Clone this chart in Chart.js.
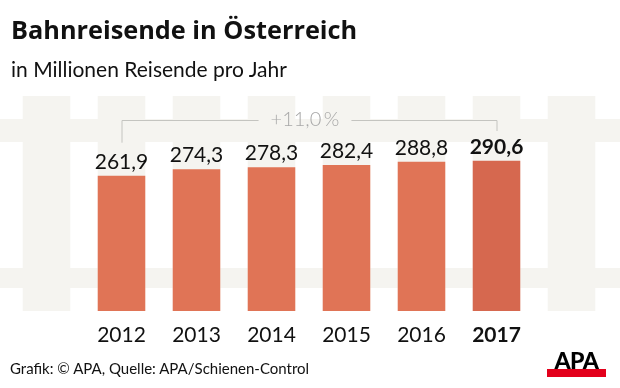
<!DOCTYPE html>
<html>
<head>
<meta charset="utf-8">
<script src="https://cdn.jsdelivr.net/npm/chart.js@4.4.1/dist/chart.umd.min.js"></script>
<style>
    body { margin: 0; background: #fff; font-family: Lato, sans-serif; }
    #wrap { position: relative; width: 620px; height: 388px; overflow: hidden; }
    #chart { position: absolute; left: 0; top: 0; }
    .title { position: absolute; left: 11px; top: 13px; font-family: "Open Sans", sans-serif; font-size: 25.3px; line-height: 32px;
             font-weight: bold; color: #111; white-space: nowrap; }
    .subtitle { position: absolute; left: 11px; top: 56px; font-size: 21px; color: #111; white-space: nowrap; }
    .source { position: absolute; left: 10px; top: 359px; font-size: 15px; color: #111; white-space: nowrap; }
    .logo { position: absolute; left: 547px; top: 348px; width: 59px; height: 21px; border-bottom: 8px solid #e3001b;
            font-size: 23px; font-weight: 900; line-height: 24px; text-align: center; color: #000; letter-spacing: -0.5px; overflow: hidden; }
</style>
</head>
<body>
<div id="wrap">
    <canvas id="chart" width="620" height="388"></canvas>
    <div class="title">Bahnreisende in Österreich</div>
    <div class="subtitle">in Millionen Reisende pro Jahr</div>
    <div class="source">Grafik: © APA, Quelle: APA/Schienen-Control</div>
    <div class="logo">APA</div>
</div>
<script>
// Data
const years = ['2012', '2013', '2014', '2015', '2016', '2017'];
const passengers = [261.9, 274.3, 278.3, 282.4, 288.8, 290.6];
const barColors = ['#e07456', '#e07456', '#e07456', '#e07456', '#e07456', '#d6684f'];

const fenceColor = '#f5f4f0';

function formatDe(v) {
    return v.toFixed(1).replace('.', ',');
}

// Fence in the background (posts line up with the bars)
const fencePlugin = {
    id: 'fence',
    beforeDatasetsDraw(chart) {
        const { ctx, chartArea, scales } = chart;
        const meta = chart.getDatasetMeta(0);
        const x0 = scales.x.getPixelForValue(0);
        const step = scales.x.getPixelForValue(1) - x0;
        const w = meta.data[0].width;
        ctx.save();
        ctx.fillStyle = fenceColor;
        for (let i = -1; i <= years.length; i++) {
            const cx = x0 + i * step;
            ctx.fillRect(cx - w / 2, chartArea.top - 60, w, chartArea.bottom - chartArea.top + 60);
        }
        ctx.fillRect(0, chartArea.top - 37, chart.width, 23);
        ctx.fillRect(0, chartArea.bottom - 43, chart.width, 20);
        ctx.restore();
    }
};

// Value labels and growth bracket
const labelPlugin = {
    id: 'labels',
    afterDatasetsDraw(chart) {
        const { ctx, chartArea } = chart;
        const meta = chart.getDatasetMeta(0);
        ctx.save();
        ctx.textAlign = 'center';
        ctx.textBaseline = 'alphabetic';
        meta.data.forEach((bar, i) => {
            const last = i === passengers.length - 1;
            ctx.font = (last ? 'bold ' : '') + '21px Lato';
            ctx.fillStyle = '#111';
            ctx.fillText(formatDe(passengers[i]), bar.x, bar.y - 7);
        });

        // bracket
        const first = meta.data[0];
        const lastBar = meta.data[meta.data.length - 1];
        const y = chartArea.top - 36;
        const growth = (passengers[passengers.length - 1] / passengers[0] - 1) * 100;
        const text = '+' + formatDe(growth) + '\u2009%';
        ctx.font = '300 20px Lato';
        const tw = ctx.measureText(text).width;
        const mid = (first.x + lastBar.x) / 2 - 4;
        ctx.strokeStyle = '#c4c4c0';
        ctx.lineWidth = 1;
        ctx.beginPath();
        ctx.moveTo(first.x + 0.5, first.y - 33);
        ctx.lineTo(first.x + 0.5, y + 0.5);
        ctx.lineTo(mid - tw / 2 - 12, y + 0.5);
        ctx.moveTo(mid + tw / 2 + 12, y + 0.5);
        ctx.lineTo(lastBar.x + 0.5, y + 0.5);
        ctx.lineTo(lastBar.x + 0.5, y + 11);
        ctx.stroke();
        ctx.fillStyle = '#a8a8a8';
        ctx.textBaseline = 'middle';
        ctx.fillText(text, mid, y);
        ctx.restore();
    }
};

new Chart(document.getElementById('chart'), {
    type: 'bar',
    data: {
        labels: years,
        datasets: [{
            data: passengers,
            backgroundColor: barColors,
            borderWidth: 0,
            categoryPercentage: 1,
            barPercentage: 0.634
        }]
    },
    options: {
        responsive: false,
        animation: false,
        layout: { padding: { left: 84, right: 86, top: 156, bottom: 0 } },
        plugins: {
            legend: { display: false },
            tooltip: { enabled: false }
        },
        scales: {
            y: { display: false, min: 0, max: 300 },
            x: {
                grid: { display: false, drawTicks: false },
                border: { display: false },
                ticks: {
                    color: '#111',
                    padding: 12,
                    maxRotation: 0,
                    autoSkip: false,
                    font: ctx => ({ family: 'Lato', size: 21, weight: ctx.index === years.length - 1 ? 'bold' : 'normal' })
                },
                afterFit(scale) { scale.height = 77; }
            }
        }
    },
    plugins: [fencePlugin, labelPlugin]
});
</script>
</body>
</html>
